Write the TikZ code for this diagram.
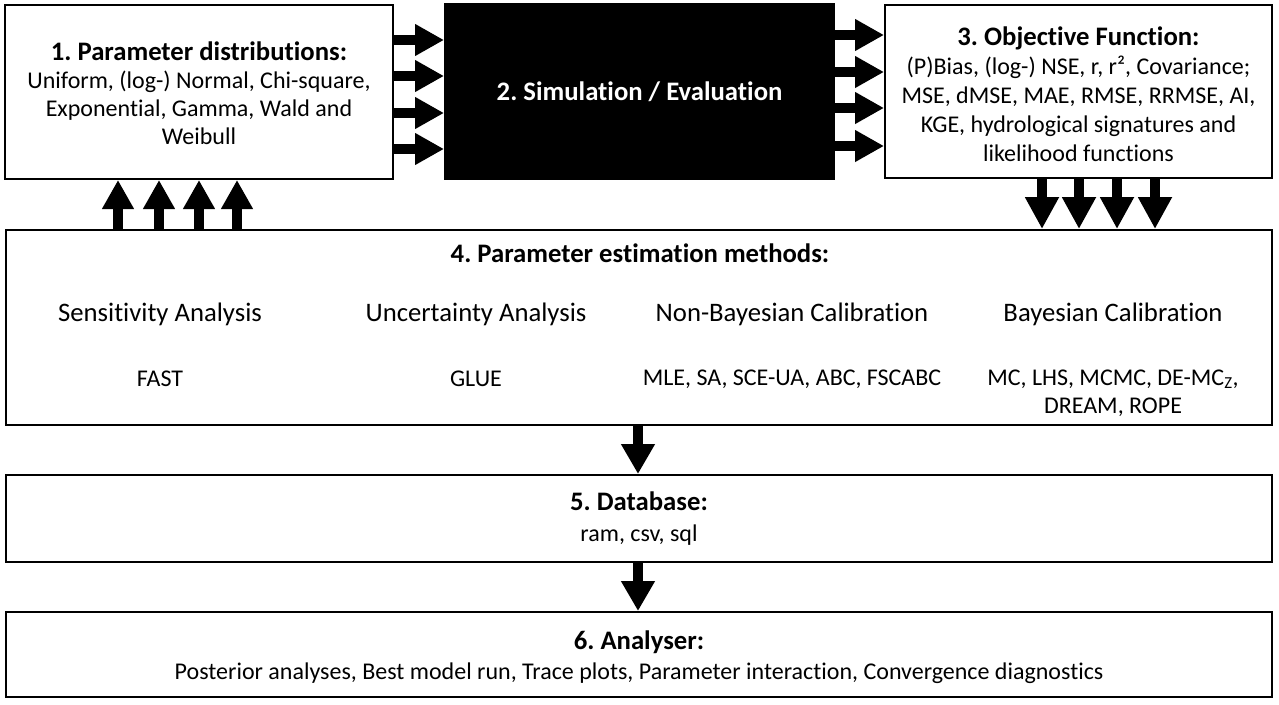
\documentclass[tikz,border=0pt]{standalone}
\usepackage{fontspec}
\setmainfont{Carlito}[RawFeature={-liga}]
\usetikzlibrary{arrows.meta}
\frenchspacing
\begin{document}
\begin{tikzpicture}[x=1pt,y=-1pt,
  box/.style={draw=black,line width=2pt,rectangle,inner sep=0pt},
  body/.style={font=\fontsize{24}{28}\selectfont},
  head/.style={font=\fontsize{26.7}{29}\selectfont\bfseries},
  cat/.style={font=\fontsize{26.7}{30}\selectfont},
  blk/.style={line width=10pt,-{Triangle[length=29pt,width=30pt]}},
]
\useasboundingbox (0,0) rectangle (1279,704);
% boxes
\node[box,minimum width=388pt,minimum height=174pt] (b1) at (199,92) {};
\node[align=center,body] (t1) at (199,93.5)
  {{\fontsize{26.7}{28}\selectfont\bfseries 1. Parameter distributions:}\\Uniform, (log-) Normal, Chi-square,\\Exponential, Gamma, Wald and\\Weibull};
\node[box,fill=black,minimum width=389pt,minimum height=175pt,text=white,head] (b2) at (639.5,91.5)
  {2. Simulation / Evaluation};
\node[box,minimum width=387pt,minimum height=173pt] (b3) at (1078.5,91.5) {};
\node[align=center,font=\fontsize{24}{29}\selectfont] (t3) at (1078.5,94.5)
  {{\fontsize{26.7}{29}\selectfont\bfseries 3. Objective Function:}\\(P)Bias, (log-) NSE, r, r², Covariance;\\MSE, dMSE, MAE, RMSE, RRMSE, AI,\\KGE, hydrological signatures and\\likelihood functions};
\node[box,minimum width=1266pt,minimum height=195pt] (b4) at (639,327.5) {};
\node[box,minimum width=1266pt,minimum height=87pt,align=center,font=\fontsize{24}{31}\selectfont] (b5) at (639,518.5)
  {{\fontsize{26.7}{31}\selectfont\bfseries 5. Database:}\\ram, csv, sql};
\node[box,minimum width=1266pt,minimum height=85pt] (b6) at (639,654.5) {};
\node[align=center,font=\fontsize{24}{30}\selectfont] (t6) at (639,657)
  {{\fontsize{26.7}{30}\selectfont\bfseries 6. Analyser:}\\Posterior analyses, Best model run, Trace plots, Parameter interaction, Convergence diagnostics};
% texts in box 4
\node[head] (t4) at (640,253) {4. Parameter estimation methods:};
\node[cat] (c1) at (160,314) {Sensitivity Analysis};
\node[cat] (c2) at (476,314) {Uncertainty Analysis};
\node[cat] (c3) at (792,314) {Non-Bayesian Calibration};
\node[cat] (c4) at (1113,314) {Bayesian Calibration};
\node[body] (m1) at (160,379) {FAST};
\node[body] (m2) at (476,379) {GLUE};
\node[body] (m3) at (792,379) {MLE, SA, SCE-UA, ABC, FSCABC};
\node[body,align=center,font=\fontsize{24}{28}\selectfont] (m4) at (1113,393) {MC, LHS, MCMC, DE-MC\textsubscript{Z},\\DREAM, ROPE};
% arrows
\foreach \y in {40,76,113,149} \draw[blk] (b1.east |- 0,\y) -- (b2.west |- 0,\y);
\foreach \y in {35,72,108,146} \draw[blk] (b2.east |- 0,\y) -- (b3.west |- 0,\y);
\foreach \x in {118,159,199,237} \draw[blk] (b4.north -| \x,0) -- (b1.south -| \x,0);
\foreach \x in {1042,1079,1117,1155} \draw[blk,-{Triangle[length=32pt,width=32pt]}] (b3.south -| \x,0) -- (b4.north -| \x,0);
\draw[blk,-{Triangle[length=30pt,width=32pt]}] (b4.south -| 638,0) -- (b5.north -| 638,0);
\draw[blk,-{Triangle[length=30pt,width=32pt]}] (b5.south -| 638,0) -- (b6.north -| 638,0);
\end{tikzpicture}
\end{document}
